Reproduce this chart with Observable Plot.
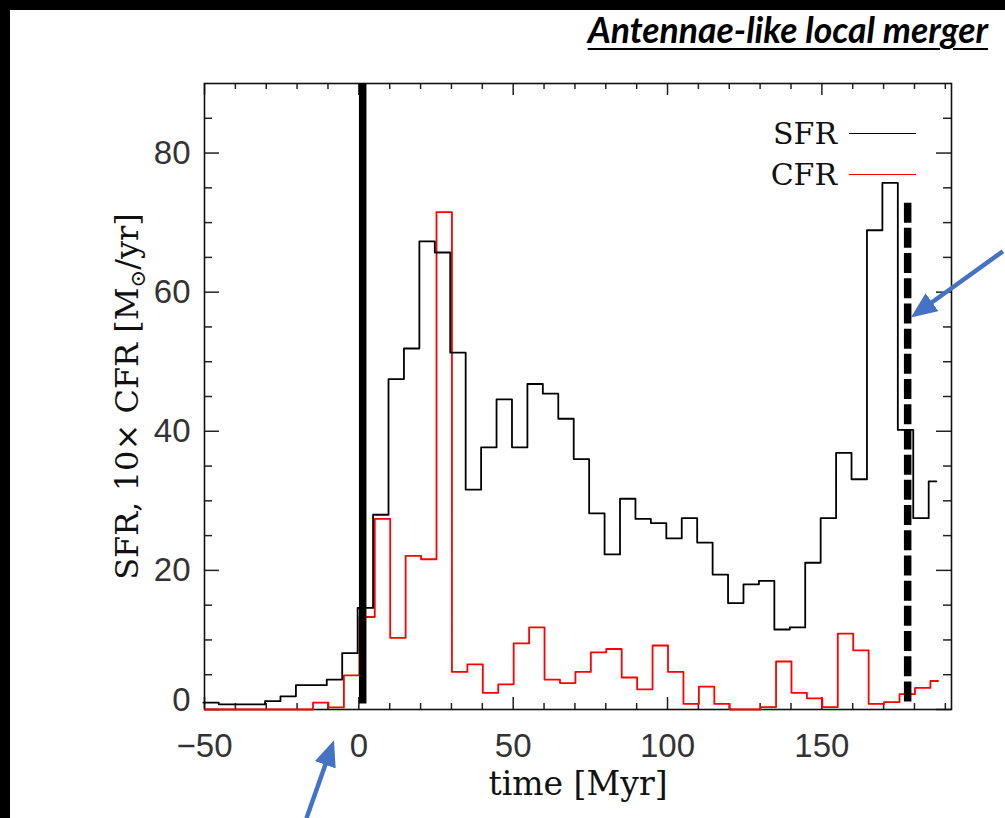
<!DOCTYPE html>
<html>
<head>
<meta charset="utf-8">
<script src="https://cdn.jsdelivr.net/npm/d3@7"></script>
<script src="https://cdn.jsdelivr.net/npm/@observablehq/plot@0.6"></script>
<style>
  html, body { margin: 0; padding: 0; background: #000; width: 1005px; height: 818px; overflow: hidden; }
  #panel { position: absolute; left: 10px; top: 10px; width: 995px; height: 808px; background: #fff; }
  #chart svg { display: block; overflow: visible; }
  #title { position: absolute; right: 17px; top: 0px; font-family: Lato, "Open Sans", sans-serif; font-weight: 700; font-style: italic;
           font-size: 35.5px; line-height: 40px; color: #000; text-decoration: underline; text-decoration-thickness: 2px; text-underline-offset: 5px; white-space: nowrap; }
  #legend { position: absolute; left: 700px; top: 103px; width: 206px; }
  .lrow { display: flex; justify-content: flex-end; align-items: center; height: 41px; }
  .ltext { font-family: "DejaVu Serif", serif; font-size: 30px; color: #111; }
  .lline { display: inline-block; width: 67px; margin-left: 12px; border-top-style: solid; border-top-width: 1.6px; }
</style>
</head>
<body>
<div id="panel">
  <div id="chart"></div>
  <div id="title">Antennae-like local merger</div>
  <div id="legend"></div>
</div>
<script>
// ---- data (bin left edges in Myr, 5 Myr bins) ----
const binStart = [-50,-45,-40,-35,-30,-25,-20,-15,-10,-5,0,5,10,15,20,25,30,35,40,45,50,55,60,65,70,75,80,85,90,95,
                  100,105,110,115,120,125,130,135,140,145,150,155,160,165,170,175,180,185];
const dataEnd = 187.5;
const sfr = [1.0,0.75,0.75,0.75,1.2,1.9,3.5,3.5,4.3,8.1,14.6,28.0,47.5,51.9,67.3,65.7,51.3,31.6,37.7,44.6,
             37.7,46.8,45.4,41.8,36.0,28.2,22.3,30.3,27.4,26.8,24.6,27.5,24.0,19.4,15.3,18.0,18.5,11.5,11.8,21.1,
             27.5,36.9,33.1,68.9,75.7,40.2,27.5,32.8];
const cfr10 = [0,0,0,0,0,0,0,1.0,0.3,4.9,13.3,27.4,10.3,22.1,21.6,71.5,5.4,6.5,2.4,3.6,
               9.5,11.8,4.3,3.8,5.4,8.2,8.7,4.6,2.9,9.2,5.4,0.8,3.3,0.8,0,0,0.35,6.9,2.4,1.6,
               0.35,10.9,8.5,0.8,1.05,2.2,3.1,4.1];
const seriesNames = ["SFR", "CFR"];
const seriesColors = ["#000000", "#ff0000"];

// event markers
const firstPassage = {t: 1.25, y1: 0.8, y2: 90};
const coalescence = {t: 177.8, y1: 72.8, y2: 1.0};

// annotation arrows (tail -> head, in data units)
const pointers = [
  {t1: 208.8, v1: 65.8, t2: 179.0, v2: 56.3},
  {t1: -16.8, v1: -15.7, t2: -7.9, v2: -4.5}
];

// axes
const xMajorTicks = [-50, 0, 50, 100, 150];
const xTickLabels = ["\u221250", "0", "50", "100", "150"];
const xMinorTicks = [-40,-30,-20,-10,10,20,30,40,60,70,80,90,110,120,130,140,160,170,180,190];
const yMajorTicks = [0, 20, 40, 60, 80];
const yMinorTicks = [5,10,15,25,30,35,45,50,55,65,70,75,85];
const xLabel = "time [Myr]";
const yLabel = "SFR, 10\u00d7 CFR [M\u2299/yr]";

// ---- build ----
const W = 995, H = 808, mL = 194, mR = 54, mT = 73, mB = 109;
const innerW = W - mL - mR, innerH = H - mT - mB;

const toRows = vals => binStart.map((t, i) => ({t, v: vals[i]})).concat([{t: dataEnd, v: vals[vals.length - 1]}]);
const sfrRows = toRows(sfr);
const cfrRows = toRows(cfr10);

const tickColor = "#222";
const labelFont = {fontFamily: "'Liberation Sans', Arial, sans-serif", fontSize: 33, fill: "#333"};

const chart = Plot.plot({
  width: W, height: H,
  marginLeft: mL, marginRight: mR, marginTop: mT, marginBottom: mB,
  x: {domain: [-50, 192]},
  y: {domain: [0, 90]},
  style: {background: "transparent"},
  marks: [
    // ticks (inward, all four sides)
    Plot.tickX(xMajorTicks, {x: d => d, insetTop: innerH - 12, stroke: tickColor, strokeWidth: 1.5}),
    Plot.tickX(xMinorTicks, {x: d => d, insetTop: innerH - 6, stroke: tickColor, strokeWidth: 1.5}),
    Plot.tickX(xMajorTicks, {x: d => d, insetBottom: innerH - 12, stroke: tickColor, strokeWidth: 1.5}),
    Plot.tickX(xMinorTicks, {x: d => d, insetBottom: innerH - 6, stroke: tickColor, strokeWidth: 1.5}),
    Plot.tickY(yMajorTicks, {y: d => d, insetRight: innerW - 15, stroke: tickColor, strokeWidth: 1.5}),
    Plot.tickY(yMinorTicks, {y: d => d, insetRight: innerW - 8, stroke: tickColor, strokeWidth: 1.5}),
    Plot.tickY(yMajorTicks, {y: d => d, insetLeft: innerW - 15, stroke: tickColor, strokeWidth: 1.5}),
    Plot.tickY(yMinorTicks, {y: d => d, insetLeft: innerW - 8, stroke: tickColor, strokeWidth: 1.5}),
    Plot.frame({stroke: "#111", strokeWidth: 1.6}),
    // tick labels
    Plot.axisX({ticks: xMajorTicks, tickSize: 0, tickPadding: 24, label: null,
                tickFormat: d => xTickLabels[xMajorTicks.indexOf(d)], ...labelFont}),
    Plot.axisY({ticks: yMajorTicks.filter(d => d > 0), tickSize: 0, tickPadding: 14, label: null, ...labelFont}),
    Plot.axisY({ticks: [0], tickSize: 0, tickPadding: 14, label: null, dy: -9, ...labelFont}),
    // axis titles
    Plot.text([xLabel], {frameAnchor: "bottom", dy: 75, lineAnchor: "middle",
                         fontFamily: "'DejaVu Serif', serif", fontSize: 33, fill: "#111"}),
    Plot.text([yLabel], {frameAnchor: "left", dx: -77, rotate: -90, lineAnchor: "middle", textAnchor: "middle",
                         fontFamily: "'DejaVu Serif', serif", fontSize: 32, fill: "#111"}),
    // series
    Plot.line(cfrRows, {x: "t", y: "v", curve: "step-after", stroke: seriesColors[1], strokeWidth: 1.8, dx: 0.5}),
    Plot.line(sfrRows, {x: "t", y: "v", curve: "step-after", stroke: seriesColors[0], strokeWidth: 1.8, dx: -1.2}),
    // event lines
    Plot.ruleX([firstPassage], {x: "t", y1: "y1", y2: "y2", stroke: "#000", strokeWidth: 7.5}),
    Plot.ruleX([coalescence], {x: "t", y1: "y1", y2: "y2", stroke: "#000", strokeWidth: 7.5, strokeDasharray: "20,5.2"})
  ]
});
document.getElementById("chart").appendChild(chart);

// subscript sun symbol in y label
d3.select(chart).selectAll("text").each(function () {
  const el = d3.select(this);
  if (this.textContent === yLabel) {
    const parts = yLabel.split("\u2299");
    el.text(null);
    el.append("tspan").text(parts[0]);
    el.append("tspan").attr("dy", 7).attr("font-size", 21).text("\u2299");
    el.append("tspan").attr("dy", -7).text(parts[1]);
  }
});

// annotation arrows via the plot's scales
const xs = chart.scale("x"), ys = chart.scale("y");
const s = d3.select(chart);
const blue = "#4472C4";
const headLen = 26, shorten = 14;
s.append("defs").append("marker")
  .attr("id", "bluehead").attr("markerUnits", "userSpaceOnUse")
  .attr("markerWidth", 30).attr("markerHeight", 24).attr("refX", headLen - shorten).attr("refY", 11)
  .attr("orient", "auto")
  .append("path").attr("d", `M0,0L${headLen},11L0,22Z`).attr("fill", blue);
for (const a of pointers) {
  const x1 = xs.apply(a.t1), y1 = ys.apply(a.v1), x2 = xs.apply(a.t2), y2 = ys.apply(a.v2);
  const len = Math.hypot(x2 - x1, y2 - y1);
  const k = (len - shorten) / len;
  s.append("line")
    .attr("x1", x1).attr("y1", y1)
    .attr("x2", x1 + (x2 - x1) * k).attr("y2", y1 + (y2 - y1) * k)
    .attr("stroke", blue).attr("stroke-width", 4.5)
    .attr("marker-end", "url(#bluehead)");
}

// legend
const legend = d3.select("#legend");
seriesNames.forEach((name, i) => {
  const row = legend.append("div").attr("class", "lrow");
  row.append("span").attr("class", "ltext").text(name);
  row.append("span").attr("class", "lline").style("border-top-color", seriesColors[i]);
});
</script>
</body>
</html>
